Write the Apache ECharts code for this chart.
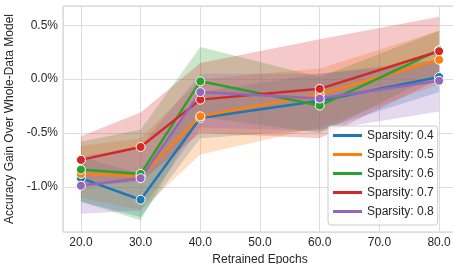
<!DOCTYPE html>
<html>
<head>
<meta charset="utf-8">
<script src="https://cdn.jsdelivr.net/npm/echarts@6/dist/echarts.min.js"></script>
<style>
  html, body { margin: 0; padding: 0; background: #fff; }
  #chart { width: 453px; height: 264px; }
</style>
</head>
<body>
<div id="chart"></div>
<script>
// retrained epochs (x)
const epochs = [20, 30, 40, 60, 80]
const sparsityNames = ['Sparsity: 0.4', 'Sparsity: 0.5', 'Sparsity: 0.6', 'Sparsity: 0.7', 'Sparsity: 0.8']
const colors = ['#1f77b4', '#ff7f0e', '#2ca02c', '#d62728', '#9467bd']

// mean gain, percent
const mean04 = [-0.92, -1.12, -0.36, -0.20, 0.02]
const mean05 = [-0.88, -0.90, -0.345, -0.14, 0.18]
const mean06 = [-0.84, -0.88, -0.02, -0.245, 0.27]
const mean07 = [-0.75, -0.63, -0.19, -0.09, 0.26]
const mean08 = [-0.99, -0.92, -0.12, -0.18, -0.015]

// confidence band, lower / upper
const low04 = [-1.14, -1.28, -0.55, -0.47, -0.12]
const high04 = [-0.72, -0.88, -0.12, 0.05, 0.18]
const low05 = [-1.10, -1.22, -0.70, -0.45, -0.05]
const high05 = [-0.62, -0.55, 0.00, 0.10, 0.45]
const low06 = [-1.14, -1.31, -0.35, -0.50, 0.05]
const high06 = [-0.58, -0.47, 0.30, 0.02, 0.45]
const low07 = [-1.00, -0.95, -0.50, -0.55, 0.00]
const high07 = [-0.53, -0.31, 0.15, 0.37, 0.58]
const low08 = [-1.25, -1.22, -0.45, -0.48, -0.30]
const high08 = [-0.72, -0.62, 0.05, 0.05, 0.15]

const means = [mean04, mean05, mean06, mean07, mean08]
const lows = [low04, low05, low06, low07, low08]
const highs = [high04, high05, high06, high07, high08]

const textColor = '#262626'
const font = 'Liberation Sans, Arial, sans-serif'

// 置信区间: one polygon, upper edge then lower edge back
function bandSeries(key, lo, hi, color) {
  return {
    type: 'custom',
    name: key,
    silent: true,
    clip: true,
    data: epochs.map((x, i) => [x, lo[i], hi[i]]),
    encode: { x: 0, y: [1, 2] },
    renderItem(params, api) {
      if (params.dataIndex !== 0) return
      const pts = []
      epochs.forEach((x, i) => pts.push(api.coord([x, hi[i]])))
      for (let i = epochs.length - 1; i >= 0; i--) pts.push(api.coord([epochs[i], lo[i]]))
      return {
        type: 'polygon',
        shape: { points: pts },
        style: { fill: color, opacity: 0.25 }
      }
    }
  }
}

function meanSeries(name, vals, color) {
  return {
    type: 'line',
    name: name,
    data: epochs.map((x, i) => [x, vals[i]]),
    color: color,
    symbol: 'circle',
    symbolSize: 9,
    lineStyle: { width: 2.5, color: color },
    itemStyle: { color: color, borderColor: '#fff', borderWidth: 1 }
  }
}

let series = []
sparsityNames.forEach((name, k) => {
  series.push(bandSeries('band' + k, lows[k], highs[k], colors[k]))
  series.push(meanSeries(name, means[k], colors[k]))
})

const myChart = echarts.init(document.getElementById('chart'))
myChart.setOption({
  animation: false,
  backgroundColor: '#fff',
  grid: {
    left: 63, top: 6, right: -4, bottom: 32,
    outerBoundsMode: 'none',
    show: true, borderColor: '#cccccc', borderWidth: 1
  },
  legend: {
    data: sparsityNames,
    orient: 'vertical',
    left: 328, top: 126,
    icon: 'rect',
    itemWidth: 29, itemHeight: 3,
    itemGap: 4,
    itemStyle: { borderWidth: 0 },
    padding: [2, 4, 6, 5],
    backgroundColor: 'rgba(255,255,255,0.8)',
    borderColor: '#cccccc', borderWidth: 1, borderRadius: 3,
    textStyle: { color: textColor, fontSize: 12, fontFamily: font, lineHeight: 15 }
  },
  xAxis: {
    type: 'value',
    min: 17, max: 83,
    splitNumber: 7,
    name: 'Retrained Epochs',
    nameLocation: 'middle',
    nameGap: 17,
    nameTextStyle: { color: textColor, fontSize: 12, fontFamily: font },
    axisLine: { show: false },
    axisTick: { show: false },
    axisLabel: {
      color: textColor, fontSize: 12, fontFamily: font, margin: 5,
      showMinLabel: false, showMaxLabel: false,
      formatter: v => v.toFixed(1)
    },
    splitLine: { lineStyle: { color: '#dddddd', width: 1 } }
  },
  yAxis: {
    type: 'value',
    min: -1.42, max: 0.68,
    splitNumber: 4,
    name: 'Accuracy Gain Over Whole-Data Model',
    nameLocation: 'middle',
    nameGap: 40,
    nameTextStyle: { color: textColor, fontSize: 12, fontFamily: font },
    axisLine: { show: false },
    axisTick: { show: false },
    axisLabel: {
      color: textColor, fontSize: 12, fontFamily: font, margin: 5,
      showMinLabel: false, showMaxLabel: false,
      formatter: v => v.toFixed(1) + '%'
    },
    splitLine: { lineStyle: { color: '#dddddd', width: 1 } }
  },
  series: series
})
</script>
</body>
</html>
